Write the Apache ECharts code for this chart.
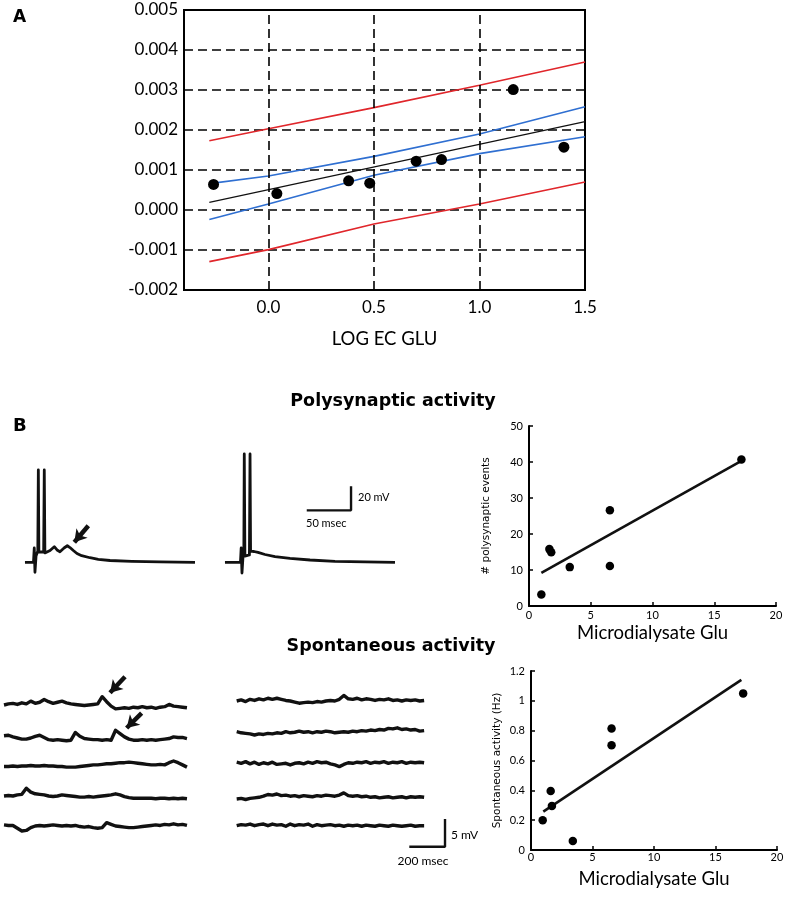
<!DOCTYPE html>
<html><head><meta charset="utf-8">
<script src="https://cdn.jsdelivr.net/npm/echarts@6/dist/echarts.min.js"></script>
<style>html,body{margin:0;padding:0;background:#fff}#c{width:787px;height:900px}</style>
</head><body><div id="c"></div>
<script>
// ================= DATA =================
// Panel A
const logEcGlu   = [-0.26, 0.04, 0.38, 0.48, 0.70, 0.82, 1.16, 1.40];
const ecValue    = [0.00064, 0.00041, 0.00073, 0.00067, 0.00122, 0.00126, 0.00301, 0.00157];
const fitX       = [-0.28, 1.5];
const fitY       = [0.00019, 0.00221];
const bandX      = [-0.28, 0, 0.5, 1.0, 1.5];
const ciUpper    = [0.00066, 0.00085, 0.00134, 0.0019, 0.00258];
const ciLower    = [-0.00024, 0.00015, 0.00087, 0.00141, 0.00183];
const piUpper    = [0.00173, 0.00203, 0.00256, 0.00312, 0.0037];
const piLower    = [-0.00129, -0.00099, -0.00035, 0.00015, 0.0007];
const aXTicks    = [0, 0.5, 1.0, 1.5];
const aGridX     = [0, 0.5, 1.0];

// Panel B scatter: polysynaptic events
const gluPoly    = [1.0, 1.65, 1.8, 3.3, 6.55, 6.55, 17.2];
const polyEvents = [3.2, 15.8, 14.9, 10.8, 26.6, 11.1, 40.7];
const polyFitX   = [1.0, 17.2];
const polyFitY   = [9.2, 40.3];

// Panel B scatter: spontaneous activity
const gluSpont   = [0.95, 1.6, 1.7, 3.4, 6.55, 6.55, 17.25];
const spontHz    = [0.2, 0.395, 0.295, 0.06, 0.814, 0.703, 1.05];
const spontFitX  = [1.0, 17.1];
const spontFitY  = [0.257, 1.14];

// Polysynaptic traces (time ms, membrane potential mV rel. baseline)
const polyT1 = [5.6, 15.2, 16.1, 16.9, 18.1, 20.1, 20.7, 21.3, 26.7, 27.4, 28.1, 29.3, 33.9, 38.7, 41.8, 45.1, 49.7, 53.4, 56.4, 60.2, 64.3, 69.6, 79, 88.4, 101.6, 126.1, 158, 197.5];
const polyV1 = [0, 0, 11.9, -8.3, 5.2, 9.4, 76.9, 8.6, 8.6, 76.9, 7.8, 7.8, 9.8, 13, 10.3, 8.8, 11.9, 13.8, 12.3, 9.8, 7.3, 5.5, 3.8, 2.5, 1.5, 0.8, 0.4, 0];
const polyT2 = [5.6, 23.1, 23.9, 24.8, 26, 26.9, 27.4, 28.1, 33.2, 33.9, 34.5, 38.4, 42.9, 50.8, 62.1, 79, 101.6, 129.8, 163.7, 197.5];
const polyV2 = [0, 0, 11.9, -8.9, 5.2, 6.9, 90.3, 5.2, 6.1, 90.3, 9.4, 9, 8.2, 6.5, 4.8, 3.2, 1.9, 0.8, 0.4, 0];
const polyArrow = [[77.1, 30.5], [61.3, 16.7]];
const polyScaleBar = {ms: 50, mV: 20};

// Spontaneous traces (mV, sampled every 25 ms)
const SPONT_DT = 25;
const spontLeft = [
  [0, 0.2, 0.3, 0.1, 0.4, 0.2, 0.7, 0.3, 0.5, 1.0, 0.6, 0.3, 0.5, 0.7, 0.4, 0.2, 0.1, 0, -0.1, 0, 0.1, 0.2, 1.5, 0.6, -0.2, -0.7, -0.6, -0.5, -0.6, -0.4, -0.5, -0.3, -0.5, -0.4, -0.6, -0.4, -0.3, 0.1, -0.2, -0.3, -0.4, -0.5],
  [0.4, 0.5, 0.2, 0, -0.2, -0.2, 0, 0.3, 0.5, 0.1, -0.3, -0.4, -0.3, -0.4, -0.5, -0.4, 1.0, 0.3, -0.1, -0.2, -0.3, -0.3, -0.4, -0.3, -0.4, 1.4, 0.8, 0.2, -0.2, -0.4, -0.4, -0.3, -0.4, -0.3, -0.4, -0.3, -0.2, -0.1, 0.2, 0.1, 0.1, -0.1],
  [-0.1, -0.1, 0, -0.1, 0, 0, 0.1, 0, 0, 0.1, 0, 0, -0.1, -0.1, -0.2, -0.2, -0.2, -0.1, 0, 0.1, 0.2, 0.2, 0.3, 0.4, 0.4, 0.5, 0.6, 0.6, 0.7, 0.6, 0.5, 0.4, 0.3, 0.2, 0.2, 0.3, 0.2, 0.6, 0.9, 0.6, 0.2, -0.2],
  [0, 0.1, 0, 0.2, 0.3, 1.4, 0.7, 0.4, 0.3, 0.2, 0, -0.1, 0, 0.2, 0.1, 0, -0.1, -0.2, -0.2, -0.1, -0.2, -0.1, 0, 0.1, 0.2, 0.4, 0.2, -0.1, -0.3, -0.4, -0.4, -0.4, -0.4, -0.4, -0.5, -0.4, -0.4, -0.5, -0.4, -0.5, -0.4, -0.5],
  [0.2, 0.1, 0.1, -0.4, -0.9, -0.8, -0.3, 0, 0.1, 0, 0.1, 0.2, 0.1, 0, 0.1, 0, 0.1, -0.1, -0.2, -0.1, -0.3, -0.4, -0.3, 0.6, 0.3, 0, -0.1, -0.2, -0.3, -0.3, -0.2, -0.1, 0, 0.1, 0.2, 0.1, 0.3, 0.2, 0.4, 0.2, 0.3, 0.1]
];
const spontRight = [
  [0, 0.2, -0.1, 0.3, 0.1, 0.4, 0.2, 0.5, 0.3, 0.5, 0.3, 0.1, 0, -0.2, -0.4, -0.3, -0.2, -0.3, -0.1, -0.2, 0, 0.1, 0, 0.3, 1.0, 0.4, 0.3, 0.5, 0.2, 0.4, 0.3, 0.1, 0.3, 0.2, 0.4, 0.1, 0.2, 0, 0.2, 0.1, 0.2, 0, 0.1],
  [0, -0.2, -0.3, -0.4, -0.6, -0.4, -0.5, -0.3, -0.4, -0.2, -0.3, 0, -0.2, -0.1, 0.1, -0.1, 0, -0.2, 0, -0.1, 0.1, 0, -0.2, -0.1, 0, -0.1, 0.1, 0, 0.2, 0.1, 0.3, 0.2, 0.4, 0.3, 0.6, 0.5, 0.7, 0.4, 0.5, 0.3, 0.4, 0.1, 0.2],
  [0.2, 0, 0.3, -0.1, 0.2, -0.2, 0.1, -0.1, 0.2, -0.2, -0.1, 0, -0.3, 0, 0.1, -0.1, 0.2, 0, 0.3, 0.1, 0.2, -0.1, -0.3, -0.6, -0.2, 0.1, 0, 0.2, 0.1, 0.3, 0, 0.2, 0.1, 0.3, 0, 0.2, 0.1, 0.3, 0, 0.2, 0.1, 0.2, 0.1],
  [-0.3, -0.2, -0.4, -0.2, -0.1, 0, 0.2, 0.5, 0.4, 0.6, 0.3, 0.4, 0.2, 0.3, 0.1, 0.3, 0.2, 0.1, 0.3, 0.2, 0.4, 0.3, 0.2, 0.4, 0.8, 0.3, 0.2, 0.3, 0.1, 0.2, 0, 0.1, -0.1, 0, 0.1, -0.1, 0, 0.1, -0.1, 0.1, 0, 0.1, 0],
  [0, 0.2, 0.1, 0.3, 0, 0.2, 0.3, 0, 0.3, 0.1, 0.2, -0.1, 0.3, 0, 0.2, 0.1, 0.3, -0.1, 0.2, 0, 0.1, 0.2, 0, 0.1, -0.1, 0.1, 0, 0.1, -0.1, 0.1, 0, -0.1, 0.1, 0, -0.1, 0.1, 0, -0.1, 0, 0.1, -0.1, 0, 0]
];
const spontArrows = [
  {row: 0, from: [678, 5.1], to: [594, 2.2]},
  {row: 1, from: [771, 4.5], to: [687, 1.8]}
];
const spontScaleBar = {ms: 200, mV: 5};

// ================= LAYOUT =================
const FONT = 'Lato, "Open Sans", "DejaVu Sans", sans-serif';
const WIDE = '"DejaVu Sans", "Open Sans", sans-serif';
const INK = '#111';
const RED = '#e0262b';
const BLUE = '#2f6fd1';
const POLY_PX_MS = 0.886, POLY_PX_MV = 1.2, POLY_BASE = 562.3;
const POLY_LEFTS = [20, 220];
const SP_PX_MS = 0.1785, SP_PX_MV = 5.54;
const SP_LEFT_X = 4, SP_RIGHT_X = 236.7;
const SP_LEFT_BASE = [705, 738, 766, 796, 826];
const SP_RIGHT_BASE = [701, 731.7, 763.3, 797.3, 825.7];
const SP_YMIN = -5, SP_YMAX = 6, SP_TMAX = 1200;
const polyBarAnchor = [97.9, 43.3];     // in trace-2 coordinates
const spontBarAnchor = [967, -3.79];    // in right row-5 coordinates

const zip = (a, b) => a.map((v, i) => [v, b[i]]);

const grids = [], xAxes = [], yAxes = [], series = [];

// ---- Panel A ----
grids.push({left: 184, top: 10, width: 401, height: 280, show: true, borderColor: '#000', borderWidth: 2, backgroundColor: 'transparent', outerBoundsMode: 'none'});
xAxes.push({gridIndex: 0, type: 'value', min: -0.4, max: 1.5,
  axisLine: {show: true, onZero: false, lineStyle: {color: '#000', width: 2}}, axisTick: {show: false}, splitLine: {show: false},
  axisLabel: {customValues: aXTicks, formatter: v => v.toFixed(1), fontSize: 17, color: '#000', margin: 9, fontFamily: FONT},
  name: 'LOG EC GLU', nameLocation: 'middle', nameGap: 40, nameTextStyle: {fontSize: 18.5, color: '#000', fontFamily: FONT}});
yAxes.push({gridIndex: 0, type: 'value', min: -0.002, max: 0.005, interval: 0.001,
  axisLine: {show: true, onZero: false, lineStyle: {color: '#000', width: 2}}, axisTick: {show: false},
  splitLine: {show: true, lineStyle: {color: '#000', width: 1.6, type: [9, 5]}},
  axisLabel: {formatter: v => (Math.abs(v) < 1e-9 ? 0 : v).toFixed(3), fontSize: 17, color: '#000', margin: 6, fontFamily: FONT}});

series.push({type: 'line', xAxisIndex: 0, yAxisIndex: 0, data: [], z: 1, silent: true,
  markLine: {silent: true, symbol: ['none', 'none'], label: {show: false}, animation: false,
    lineStyle: {color: '#000', width: 1.6, type: [9, 5]}, data: aGridX.map(x => ({xAxis: x}))}});
[[piUpper, RED], [piLower, RED], [ciUpper, BLUE], [ciLower, BLUE]].forEach(([arr, c]) => {
  series.push({type: 'line', xAxisIndex: 0, yAxisIndex: 0, data: zip(bandX, arr), showSymbol: false, symbol: 'none',
    lineStyle: {color: c, width: 1.6}, z: 3, animation: false});
});
series.push({type: 'line', xAxisIndex: 0, yAxisIndex: 0, data: zip(fitX, fitY), symbol: 'none', lineStyle: {color: INK, width: 1.1}, z: 3, animation: false});
series.push({type: 'scatter', xAxisIndex: 0, yAxisIndex: 0, data: zip(logEcGlu, ecValue), symbolSize: 11, itemStyle: {color: '#000', opacity: 1}, z: 5, animation: false});

// ---- scatter panels ----
function scatterAxes(gi, ymax, yint, yfmt, yname, ynameGap, xnameGap, xlabMargin) {
  xAxes.push({gridIndex: gi, type: 'value', min: 0, max: 20, interval: 5,
    axisLine: {show: true, onZero: false, lineStyle: {color: '#000', width: 2}},
    axisTick: {show: true, inside: true, length: 4, lineStyle: {color: '#000', width: 1.5}},
    splitLine: {show: false},
    axisLabel: {fontSize: 11, color: '#000', margin: xlabMargin, fontFamily: FONT},
    name: 'Microdialysate Glu', nameLocation: 'middle', nameGap: xnameGap,
    nameTextStyle: {fontSize: 18.5, color: '#000', fontFamily: FONT}});
  yAxes.push({gridIndex: gi, type: 'value', min: 0, max: ymax, interval: yint,
    axisLine: {show: true, onZero: false, lineStyle: {color: '#000', width: 2}},
    axisTick: {show: true, inside: true, length: 4, lineStyle: {color: '#000', width: 1.5}},
    splitLine: {show: false},
    axisLabel: {fontSize: 11, color: '#000', margin: 6, fontFamily: FONT, formatter: yfmt},
    name: yname, nameLocation: 'middle', nameGap: ynameGap,
    nameTextStyle: {fontSize: 10.5, color: '#000', fontFamily: WIDE}});
}
grids.push({left: 529, top: 426, width: 247, height: 180, outerBoundsMode: 'none'});
scatterAxes(1, 50, 10, v => String(v), '# polysynaptic events', 37, 18, 4);
series.push({type: 'line', xAxisIndex: 1, yAxisIndex: 1, data: zip(polyFitX, polyFitY), symbol: 'none', lineStyle: {color: INK, width: 2.6}, animation: false});
series.push({type: 'scatter', xAxisIndex: 1, yAxisIndex: 1, data: zip(gluPoly, polyEvents), symbolSize: 8.5, itemStyle: {color: '#000', opacity: 1}, z: 5, animation: false});

grids.push({left: 531, top: 671, width: 246, height: 179, outerBoundsMode: 'none'});
scatterAxes(2, 1.2, 0.2, v => String(parseFloat(v.toFixed(1))), 'Spontaneous activity (Hz)', 28, 20, 2);
series.push({type: 'line', xAxisIndex: 2, yAxisIndex: 2, data: zip(spontFitX, spontFitY), symbol: 'none', lineStyle: {color: INK, width: 2.6}, animation: false});
series.push({type: 'scatter', xAxisIndex: 2, yAxisIndex: 2, data: zip(gluSpont, spontHz), symbolSize: 8.5, itemStyle: {color: '#000', opacity: 1}, z: 5, animation: false});

// ---- trace grids ----
function traceGrid(left, top, tmax, ymin, ymax, pxms, pxmv) {
  const gi = grids.length;
  grids.push({left: left, top: top, width: tmax * pxms, height: (ymax - ymin) * pxmv, outerBoundsMode: 'none'});
  xAxes.push({gridIndex: gi, type: 'value', min: 0, max: tmax, show: false});
  yAxes.push({gridIndex: gi, type: 'value', min: ymin, max: ymax, show: false});
  return gi;
}
function arrowMark(from, to) {
  return {silent: true, symbol: ['none', 'arrow'], symbolSize: [11, 12], label: {show: false}, animation: false,
    lineStyle: {color: INK, width: 4.5, type: 'solid'}, emphasis: {disabled: true},
    data: [[{coord: from}, {coord: to}]]};
}

// polysynaptic traces
const polyT = [polyT1, polyT2], polyV = [polyV1, polyV2];
const polyGrids = POLY_LEFTS.map(l => traceGrid(l, POLY_BASE - 100 * POLY_PX_MV, 200, -20, 100, POLY_PX_MS, POLY_PX_MV));
polyGrids.forEach((gi, k) => {
  const s = {type: 'line', xAxisIndex: gi, yAxisIndex: gi, data: zip(polyT[k], polyV[k]), symbol: 'none',
    lineStyle: {color: INK, width: 2.8, join: 'round'}, animation: false, clip: false};
  if (k === 0) s.markLine = arrowMark(polyArrow[0], polyArrow[1]);
  series.push(s);
});
{
  const [bx, by] = polyBarAnchor;
  series.push({type: 'line', xAxisIndex: polyGrids[1], yAxisIndex: polyGrids[1], symbol: 'none', animation: false,
    data: [[bx, by], [bx + polyScaleBar.ms, by], [bx + polyScaleBar.ms, by + polyScaleBar.mV]],
    lineStyle: {color: INK, width: 2.4}});
}

// spontaneous traces
function addSpont(col, bases, left) {
  const gis = [];
  col.forEach((vals, r) => {
    const gi = traceGrid(left, bases[r] - SP_YMAX * SP_PX_MV, SP_TMAX, SP_YMIN, SP_YMAX, SP_PX_MS, SP_PX_MV);
    gis.push(gi);
    series.push({type: 'line', xAxisIndex: gi, yAxisIndex: gi, data: vals.map((v, i) => [i * SPONT_DT, v]),
      symbol: 'none', lineStyle: {color: INK, width: 3.4, join: 'round'}, animation: false});
  });
  return gis;
}
const leftGis = addSpont(spontLeft, SP_LEFT_BASE, SP_LEFT_X);
const rightGis = addSpont(spontRight, SP_RIGHT_BASE, SP_RIGHT_X);
spontArrows.forEach(a => {
  series.push({type: 'line', xAxisIndex: leftGis[a.row], yAxisIndex: leftGis[a.row], data: [], markLine: arrowMark(a.from, a.to)});
});
{
  const gi = rightGis[4];
  const [bx, by] = spontBarAnchor;
  series.push({type: 'line', xAxisIndex: gi, yAxisIndex: gi, symbol: 'none', animation: false,
    data: [[bx, by], [bx + spontScaleBar.ms, by], [bx + spontScaleBar.ms, by + spontScaleBar.mV]],
    lineStyle: {color: INK, width: 2.4}});
}

// ---- text ----
function txt(x, y, text, size, weight, align, family) {
  return {type: 'text', x: x, y: y, silent: true,
    style: {text: text, fontSize: size, fontWeight: weight || 'normal', fontFamily: family || FONT, fill: '#000',
      align: align || 'left', verticalAlign: 'middle'}};
}
const graphic = [
  txt(13, 18, 'A', 17, 'bold', 'left', WIDE),
  txt(13, 426, 'B', 18, 'bold', 'left', WIDE),
  txt(393, 401, 'Polysynaptic activity', 17.5, 'bold', 'center', WIDE),
  txt(391, 646, 'Spontaneous activity', 17.5, 'bold', 'center', WIDE),
  txt(358, 497, '20 mV', 11),
  txt(306, 523, '50 msec', 11),
  txt(451, 835, '5 mV', 12),
  txt(423, 861, '200 msec', 12, 'normal', 'center')
];

const chart = echarts.init(document.getElementById('c'), null, {renderer: 'canvas'});
chart.setOption({
  backgroundColor: '#fff', animation: false, textStyle: {fontFamily: FONT},
  grid: grids, xAxis: xAxes, yAxis: yAxes, series: series, graphic: graphic
});
</script></body></html>
